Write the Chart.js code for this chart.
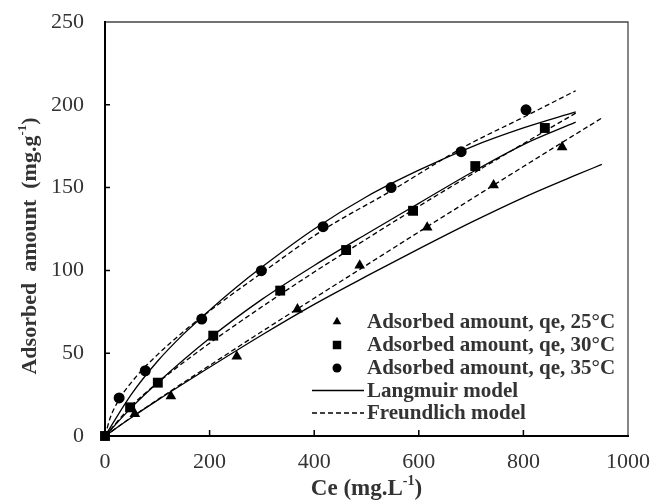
<!DOCTYPE html>
<html>
<head>
<meta charset="utf-8">
<script src="https://cdn.jsdelivr.net/npm/chart.js@4.4.0/dist/chart.umd.min.js"></script>
<style>
  html, body { margin: 0; padding: 0; background: #fff; }
  #wrap { width: 667px; height: 501px; }
</style>
</head>
<body>
<div id="wrap"><canvas id="chart" width="667" height="501"></canvas></div>
<script>
// measured points (Ce in mg/L, qe in mg/g)
const ce25 = [57, 126, 252, 368, 487, 616, 743, 874];
const qe25 = [13.3, 24, 48, 76.5, 103, 126, 151.5, 174.5];
const ce30 = [0, 48, 101, 207, 335, 461, 589, 708, 841];
const qe30 = [0, 17.3, 32.2, 60.6, 87.8, 112.3, 136, 163, 186];
const ce35 = [27, 77, 185, 299, 417, 547, 681, 805];
const qe35 = [23, 39.4, 70.6, 99.8, 126.4, 150, 171.7, 197];

// model curves
const lmCe25 = [0, 50, 100, 200, 300, 400, 500, 600, 700, 800, 900, 950];
const lmQe25 = [0, 11, 21.5, 41.5, 61, 79.5, 96.5, 113, 129, 144, 157.5, 164];
const frCe25 = [0, 50, 100, 200, 300, 400, 500, 600, 700, 800, 900, 950];
const frQe25 = [0, 11.2, 21.8, 42.6, 63.1, 83.2, 103.2, 123.2, 143, 162.7, 182.3, 192];
const lmCe30 = [0, 50, 100, 200, 300, 400, 500, 600, 700, 800, 900];
const lmQe30 = [0, 17, 32, 59, 82.5, 103, 122, 140.5, 159, 176, 189.5];
const frCe30 = [0, 50, 100, 200, 300, 400, 500, 600, 700, 800, 900];
const frQe30 = [0, 18, 32, 56, 78, 99, 119, 138.7, 157.8, 176.5, 195];
const lmCe35 = [0, 50, 100, 150, 200, 250, 300, 400, 500, 600, 700, 800, 900];
const lmQe35 = [0, 25, 45, 61.5, 76, 89.5, 102, 125, 144.5, 160.5, 174.5, 186, 195.7];
const frCe35 = [0, 10, 27, 60, 100, 150, 200, 300, 417, 547, 685, 800, 900];
const frQe35 = [0, 11, 22, 36, 49, 63, 75.5, 98.5, 124.4, 148, 174.3, 192.5, 208.5];

const xTickValues = [0, 200, 400, 600, 800, 1000];
const yTickValues = [0, 50, 100, 150, 200, 250];
const legendLabels = [
  "Adsorbed amount, qe, 25°C",
  "Adsorbed amount, qe, 30°C",
  "Adsorbed amount, qe, 35°C",
  "Langmuir model",
  "Freundlich model"
];

const SERIF = "'Liberation Serif', 'Times New Roman', serif";
const pts = (xs, ys) => xs.map((x, i) => ({ x: x, y: ys[i] }));

const markerSet = (xs, ys, style, r) => ({
  data: pts(xs, ys),
  showLine: false,
  pointStyle: style,
  pointRadius: r,
  pointHoverRadius: r,
  pointBackgroundColor: "#000",
  pointBorderColor: "#000",
  pointBorderWidth: 0,
  clip: false
});

const curveSet = (xs, ys, dashed) => ({
  data: pts(xs, ys),
  showLine: true,
  borderColor: "#000",
  borderWidth: 1.3,
  borderDash: dashed ? [5, 3] : [],
  pointRadius: 0,
  cubicInterpolationMode: "monotone",
  fill: false,
  clip: false
});

function drawMarker(ctx, style, x, y, r) {
  ctx.beginPath();
  if (style === "triangle") {
    ctx.moveTo(x, y - r);
    ctx.lineTo(x + r * 0.866, y + r * 0.5);
    ctx.lineTo(x - r * 0.866, y + r * 0.5);
    ctx.closePath();
  } else if (style === "rect") {
    const s = r * Math.SQRT1_2;
    ctx.rect(x - s, y - s, 2 * s, 2 * s);
  } else {
    ctx.arc(x, y, r, 0, Math.PI * 2);
  }
  ctx.fill();
}

// text with a "-1" superscript before the closing bracket
function drawSupText(ctx, pre, sup, post, cx, cy, size) {
  const big = "bold " + size + "px " + SERIF;
  const small = "bold " + Math.round(size * 0.6) + "px " + SERIF;
  ctx.font = big;
  const w1 = ctx.measureText(pre).width;
  const w3 = ctx.measureText(post).width;
  ctx.font = small;
  const w2 = ctx.measureText(sup).width;
  let x = cx - (w1 + w2 + w3) / 2;
  ctx.textAlign = "left";
  ctx.textBaseline = "middle";
  ctx.font = big;
  ctx.fillText(pre, x, cy);
  x += w1;
  ctx.font = small;
  ctx.fillText(sup, x, cy - size * 0.35);
  x += w2;
  ctx.font = big;
  ctx.fillText(post, x, cy);
}

const framePlugin = {
  id: "frame",
  beforeDatasetsDraw(chart) {
    const { ctx, chartArea: a, scales } = chart;
    ctx.save();
    ctx.strokeStyle = "#444";
    ctx.lineWidth = 1.3;
    ctx.beginPath();
    ctx.moveTo(a.left, a.top);
    ctx.lineTo(a.right, a.top);
    ctx.lineTo(a.right, a.bottom);
    ctx.stroke();
    ctx.strokeStyle = "#000";
    ctx.lineWidth = 2;
    ctx.beginPath();
    ctx.moveTo(a.left, a.top - 1);
    ctx.lineTo(a.left, a.bottom);
    ctx.lineTo(a.right + 1, a.bottom);
    ctx.stroke();
    ctx.lineWidth = 1.5;
    ctx.beginPath();
    yTickValues.slice(1, -1).forEach(v => {
      const py = scales.y.getPixelForValue(v);
      ctx.moveTo(a.left, py);
      ctx.lineTo(a.left + 5, py);
    });
    xTickValues.slice(1, -1).forEach(v => {
      const px = scales.x.getPixelForValue(v);
      ctx.moveTo(px, a.bottom);
      ctx.lineTo(px, a.bottom - 6);
    });
    ctx.stroke();
    ctx.restore();
  }
};

const labelPlugin = {
  id: "labels",
  afterDraw(chart) {
    const { ctx, chartArea: a } = chart;
    ctx.save();
    ctx.fillStyle = "#333";
    drawSupText(ctx, "Ce (mg.L", "-1", ")", (a.left + a.right) / 2, 489, 23);
    ctx.translate(30, 246);
    ctx.rotate(-Math.PI / 2);
    drawSupText(ctx, "Adsorbed  amount  (mg.g", "-1", ")", 0, 0, 22);
    ctx.restore();

    // legend
    ctx.save();
    const rows = [321.7, 345, 368, 390.5, 413];
    const styles = ["triangle", "rect", "circle"];
    const radii = [5, 6, 4.5];
    ctx.fillStyle = "#000";
    ctx.strokeStyle = "#000";
    for (let i = 0; i < 3; i++) drawMarker(ctx, styles[i], 337, rows[i], radii[i]);
    ctx.lineWidth = 1.3;
    ctx.beginPath();
    ctx.moveTo(312, rows[3]);
    ctx.lineTo(364, rows[3]);
    ctx.stroke();
    ctx.setLineDash([5, 3]);
    ctx.beginPath();
    ctx.moveTo(312, rows[4]);
    ctx.lineTo(364, rows[4]);
    ctx.stroke();
    ctx.setLineDash([]);
    ctx.fillStyle = "#333";
    ctx.font = "bold 21px " + SERIF;
    ctx.textAlign = "left";
    ctx.textBaseline = "middle";
    legendLabels.forEach((t, i) => ctx.fillText(t, 367, rows[i] + 1));
    ctx.restore();
  }
};

new Chart(document.getElementById("chart"), {
  type: "scatter",
  data: {
    datasets: [
      markerSet(ce30, qe30, "rect", 7),
      markerSet(ce25, qe25, "triangle", 6.2),
      markerSet(ce35, qe35, "circle", 5.5),
      curveSet(lmCe25, lmQe25, false),
      curveSet(frCe25, frQe25, true),
      curveSet(lmCe30, lmQe30, false),
      curveSet(frCe30, frQe30, true),
      curveSet(lmCe35, lmQe35, false),
      curveSet(frCe35, frQe35, true)
    ]
  },
  options: {
    responsive: false,
    animation: false,
    devicePixelRatio: 1,
    layout: { padding: { top: 22, right: 39, left: 0, bottom: 0 } },
    plugins: { legend: { display: false }, tooltip: { enabled: false } },
    scales: {
      x: {
        min: 0,
        max: 1000,
        afterBuildTicks: s => { s.ticks = xTickValues.map(v => ({ value: v })); },
        afterFit: s => { s.height = 65; s.paddingLeft = 0; s.paddingRight = 0; },
        grid: { display: false, drawTicks: false },
        border: { display: false },
        ticks: { color: "#333", padding: 13, font: { family: SERIF, size: 22 }, callback: v => String(v) }
      },
      y: {
        min: 0,
        max: 250,
        afterBuildTicks: s => { s.ticks = yTickValues.map(v => ({ value: v })); },
        afterFit: s => { s.width = 105; s.paddingTop = 0; s.paddingBottom = 0; },
        grid: { display: false, drawTicks: false },
        border: { display: false },
        ticks: { color: "#333", padding: 21, font: { family: SERIF, size: 22 }, callback: v => String(v) }
      }
    }
  },
  plugins: [framePlugin, labelPlugin]
});
</script>
</body>
</html>
